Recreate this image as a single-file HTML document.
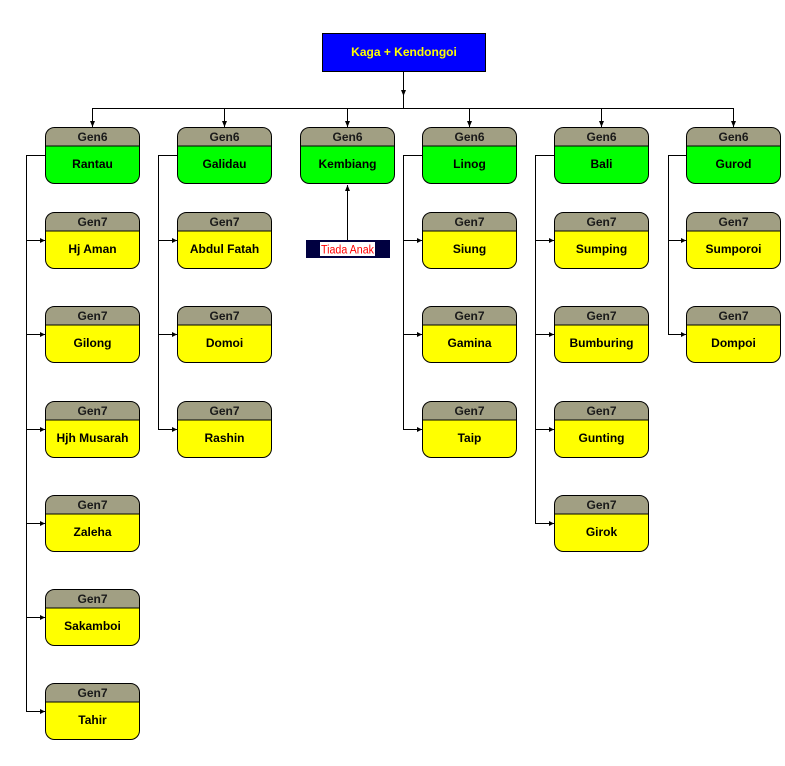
<!DOCTYPE html>
<html><head><meta charset="utf-8"><style>
html,body{margin:0;padding:0;background:#fff;}
svg{display:block;}
text{font-family:"Liberation Sans",Arial,sans-serif;}
</style></head><body>
<svg width="785" height="766" viewBox="0 0 785 766" xmlns="http://www.w3.org/2000/svg">
<!-- top box -->
<rect x="322.5" y="33.5" width="163" height="38" fill="#0000ff" stroke="#000" stroke-width="1"/>
<text x="404" y="56" text-anchor="middle" font-size="12" font-weight="bold" fill="#ffff00">Kaga + Kendongoi</text>
<!-- top connectors -->
<g stroke="#000" stroke-width="1" fill="none">
<line x1="403.5" y1="72" x2="403.5" y2="108.5"/>
<line x1="92.5" y1="108.5" x2="733.5" y2="108.5"/>
<line x1="92.5" y1="108" x2="92.5" y2="127"/>
<line x1="224.5" y1="108" x2="224.5" y2="127"/>
<line x1="347.5" y1="108" x2="347.5" y2="127"/>
<line x1="469.5" y1="108" x2="469.5" y2="127"/>
<line x1="601.5" y1="108" x2="601.5" y2="127"/>
<line x1="733.5" y1="108" x2="733.5" y2="127"/>
</g>
<g fill="#000">
<polygon points="401,90 406,90 403.5,96"/>
<polygon points="90,121 95,121 92.5,127"/>
<polygon points="222,121 227,121 224.5,127"/>
<polygon points="345,121 350,121 347.5,127"/>
<polygon points="467,121 472,121 469.5,127"/>
<polygon points="599,121 604,121 601.5,127"/>
<polygon points="731,121 736,121 733.5,127"/>
</g>
<!-- column connectors -->
<g stroke="#000" stroke-width="1" fill="none">
<polyline points="45,155.5 26.5,155.5 26.5,711.5 45,711.5"/>
<line x1="26.5" y1="240.5" x2="45" y2="240.5"/>
<line x1="26.5" y1="334.5" x2="45" y2="334.5"/>
<line x1="26.5" y1="429.5" x2="45" y2="429.5"/>
<line x1="26.5" y1="523.5" x2="45" y2="523.5"/>
<line x1="26.5" y1="617.5" x2="45" y2="617.5"/>
<polyline points="177,155.5 158.5,155.5 158.5,429.5 177,429.5"/>
<line x1="158.5" y1="240.5" x2="177" y2="240.5"/>
<line x1="158.5" y1="334.5" x2="177" y2="334.5"/>
<polyline points="422,155.5 403.5,155.5 403.5,429.5 422,429.5"/>
<line x1="403.5" y1="240.5" x2="422" y2="240.5"/>
<line x1="403.5" y1="334.5" x2="422" y2="334.5"/>
<polyline points="554,155.5 535.5,155.5 535.5,523.5 554,523.5"/>
<line x1="535.5" y1="240.5" x2="554" y2="240.5"/>
<line x1="535.5" y1="334.5" x2="554" y2="334.5"/>
<line x1="535.5" y1="429.5" x2="554" y2="429.5"/>
<polyline points="686,155.5 668.5,155.5 668.5,334.5 686,334.5"/>
<line x1="668.5" y1="240.5" x2="686" y2="240.5"/>
<line x1="347.5" y1="185" x2="347.5" y2="240"/>
</g>
<g fill="#000">
<polygon points="40,238 40,243 45,240.5"/>
<polygon points="40,332 40,337 45,334.5"/>
<polygon points="40,427 40,432 45,429.5"/>
<polygon points="40,521 40,526 45,523.5"/>
<polygon points="40,615 40,620 45,617.5"/>
<polygon points="40,709 40,714 45,711.5"/>
<polygon points="172,238 172,243 177,240.5"/>
<polygon points="172,332 172,337 177,334.5"/>
<polygon points="172,427 172,432 177,429.5"/>
<polygon points="417,238 417,243 422,240.5"/>
<polygon points="417,332 417,337 422,334.5"/>
<polygon points="417,427 417,432 422,429.5"/>
<polygon points="549,238 549,243 554,240.5"/>
<polygon points="549,332 549,337 554,334.5"/>
<polygon points="549,427 549,432 554,429.5"/>
<polygon points="549,521 549,526 554,523.5"/>
<polygon points="681,238 681,243 686,240.5"/>
<polygon points="681,332 681,337 686,334.5"/>
<polygon points="345,191 350,191 347.5,185"/>
</g>
<!-- Tiada Anak -->
<rect x="306" y="240" width="84" height="18" fill="#000040"/>
<rect x="320" y="242" width="55" height="14" fill="#fff"/>
<text x="321" y="253.5" font-size="11.5" fill="#ff0000" textLength="53" lengthAdjust="spacingAndGlyphs">Tiada Anak</text>

<g id="boxes" font-size="12" font-weight="bold" text-anchor="middle">
</g>
<script>
(function(){
var ns="http://www.w3.org/2000/svg";
var g=document.getElementById("boxes");
var W=95,H=57,HH=18.5,R=9;
function box(x,y,hdr,name,col){
  var x0=x+0.5,y0=y+0.5,w=W-1,h=H-1;
  var hy=y0+HH;
  var p1=document.createElementNS(ns,"path");
  p1.setAttribute("d","M"+x0+","+hy+" V"+(y0+R)+" Q"+x0+","+y0+" "+(x0+R)+","+y0+" H"+(x0+w-R)+" Q"+(x0+w)+","+y0+" "+(x0+w)+","+(y0+R)+" V"+hy+" Z");
  p1.setAttribute("fill","#a19f83");
  g.appendChild(p1);
  var p2=document.createElementNS(ns,"path");
  p2.setAttribute("d","M"+x0+","+hy+" V"+(y0+h-R)+" Q"+x0+","+(y0+h)+" "+(x0+R)+","+(y0+h)+" H"+(x0+w-R)+" Q"+(x0+w)+","+(y0+h)+" "+(x0+w)+","+(y0+h-R)+" V"+hy+" Z");
  p2.setAttribute("fill",col);
  g.appendChild(p2);
  var l=document.createElementNS(ns,"line");
  l.setAttribute("x1",x0);l.setAttribute("x2",x0+w);l.setAttribute("y1",hy);l.setAttribute("y2",hy);
  l.setAttribute("stroke","#000");l.setAttribute("stroke-width","1");
  g.appendChild(l);
  var o=document.createElementNS(ns,"rect");
  o.setAttribute("x",x0);o.setAttribute("y",y0);o.setAttribute("width",w);o.setAttribute("height",h);
  o.setAttribute("rx",R);o.setAttribute("ry",R);o.setAttribute("fill","none");o.setAttribute("stroke","#000");o.setAttribute("stroke-width","1");
  g.appendChild(o);
  var t1=document.createElementNS(ns,"text");
  t1.setAttribute("x",x+W/2);t1.setAttribute("y",y+14);t1.setAttribute("fill","#1a1a1a");
  t1.textContent=hdr;g.appendChild(t1);
  var t2=document.createElementNS(ns,"text");
  t2.setAttribute("x",x+W/2);t2.setAttribute("y",y+41);t2.setAttribute("fill","#000");
  t2.textContent=name;g.appendChild(t2);
}
var cols=[
 [45,"Rantau",["Hj Aman","Gilong","Hjh Musarah","Zaleha","Sakamboi","Tahir"]],
 [177,"Galidau",["Abdul Fatah","Domoi","Rashin"]],
 [300,"Kembiang",[]],
 [422,"Linog",["Siung","Gamina","Taip"]],
 [554,"Bali",["Sumping","Bumburing","Gunting","Girok"]],
 [686,"Gurod",["Sumporoi","Dompoi"]]
];
var rows=[212,306,401,495,589,683];
cols.forEach(function(c){
  box(c[0],127,"Gen6",c[1],"#00ff00");
  c[2].forEach(function(n,i){box(c[0],rows[i],"Gen7",n,"#ffff00");});
});
})();
</script>
</svg>
</body></html>
